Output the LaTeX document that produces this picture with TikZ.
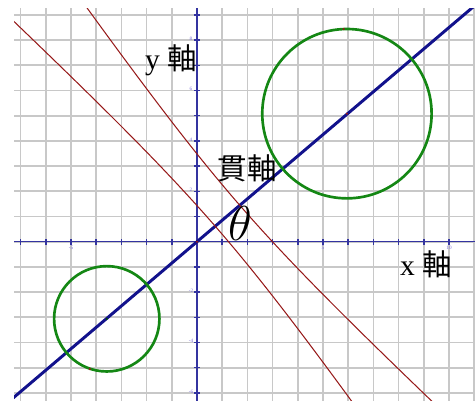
\documentclass[tikz,border=0pt]{standalone}
\usepackage{graphicx}
\usepackage{fontspec}
\setmainfont{Liberation Serif}
\newfontfamily\cjk{Noto Sans CJK TC}
\definecolor{gridgray}{RGB}{200,200,200}
\definecolor{axisblue}{RGB}{52,52,160}
\definecolor{navyline}{RGB}{18,18,140}
\definecolor{curvered}{RGB}{150,25,25}
\definecolor{ringgreen}{RGB}{20,135,20}
\definecolor{ticknum}{RGB}{125,110,215}

\begin{document}
\begin{tikzpicture}[
  x=0.6cm,
  y=0.6cm,
  gridline/.style={draw=gridgray,line width=1.1pt},
  axisline/.style={draw=axisblue,line width=1pt},
  mainaxis/.style={draw=navyline,line width=2pt},
  branch/.style={draw=curvered,line width=0.7pt},
  ring/.style={draw=ringgreen,line width=1.8pt},
  ticklabel/.style={text=ticknum,font=\fontsize{3.5}{4}\selectfont,inner sep=0pt},
  axislabel/.style={font=\fontsize{20}{22}\selectfont,anchor=base,inner sep=0pt}
]
\useasboundingbox (-7.817,-6.321) rectangle (11.032,9.591);

% =====================================================================
% grid and axes
% =====================================================================
\foreach \x in {-7,...,11}
  \draw[gridline] (\x,-6.321) -- (\x,9.27);
\foreach \y in {-6,...,9}
  \draw[gridline] (-7.26,\y) -- (11.032,\y);

\draw[axisline] (-7.26,0) -- (11.032,0);
\draw[axisline] (0,-6.321) -- (0,9.27);
\foreach \x in {-7,...,10}
  \draw[axisline] (\x,-0.12) -- (\x,0.12);
\foreach \y in {-6,...,9}
  \draw[axisline] (-0.12,\y) -- (0.12,\y);

% tiny tick numbers
\foreach \x in {-5,5,10}
  \node[ticklabel] (xt\x) at (\x,-0.25) {\x};
\foreach \y in {8,6,4,2,-2,-4,-6}
  \node[ticklabel] (yt\y) at (-0.24,\y+0.05) {\y};

% =====================================================================
% transverse axis, hyperbola, circles
% =====================================================================
\begin{scope}
  \clip (-7.26,-6.321) rectangle (11.032,9.27);
  \draw[mainaxis] (-8,-6.8) -- (12,10.2);
  % two branches of the hyperbola
  \begin{scope}[shift={(1.21,1.03)},rotate=41]
    \draw[branch,domain=-1.7:1.7,samples=90,variable=\t]
      plot ({0.64*cosh(\t)},{6.2*sinh(\t)});
    \draw[branch,domain=-1.7:1.7,samples=90,variable=\t]
      plot ({-0.64*cosh(\t)},{6.2*sinh(\t)});
  \end{scope}
  \draw[ring] (5.95,5.08) circle (3.36);
  \draw[ring] (-3.58,-3.06) circle (2.09);
\end{scope}

% small marked points
\fill[curvered] (0,0) circle (0.8pt);
\fill[curvered] (5.95,5.08) circle (0.8pt);
\fill[curvered] (5.82,8.44) circle (0.8pt);
\fill[black!70!green] (-3.58,-3.06) circle (0.8pt);
\fill[curvered] (-4.25,-5.05) circle (0.8pt);

% =====================================================================
% labels
% =====================================================================
\node[axislabel] (ylab) at (-1.03,6.85) {y {\cjk 軸}};
\node[axislabel] (tlab) at (2.00,2.45) {{\cjk 貫軸}};
\node[axislabel] (xlab) at (9.09,-1.36) {x {\cjk 軸}};
\node[axislabel] (theta) at (1.71,0.05) {\scalebox{1.6}{$\theta$}};

\end{tikzpicture}
\end{document}
